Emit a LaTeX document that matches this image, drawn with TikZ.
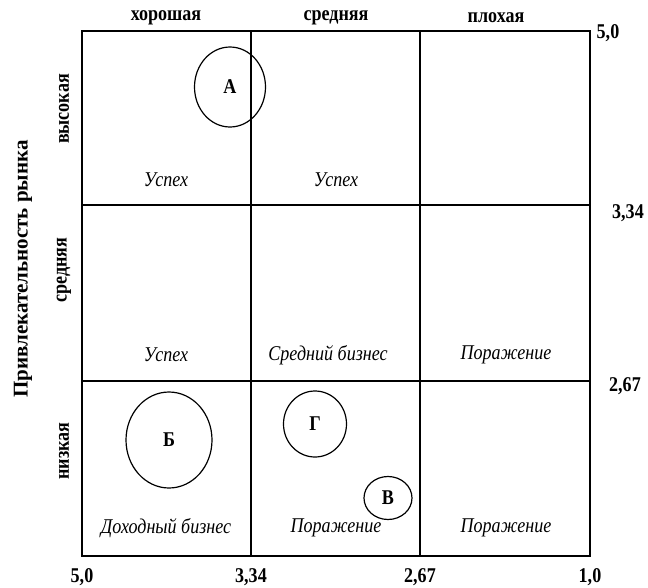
\documentclass[tikz,border=0pt]{standalone}
\usepackage{fontspec}
\setmainfont{Liberation Serif}[FakeStretch=0.86]
\newfontfamily\wideserif{Liberation Serif}
\usetikzlibrary{shapes.geometric}
\begin{document}
\begin{tikzpicture}[x=1pt,y=-1pt,line width=1.2pt,
  head/.style={font=\fontsize{21}{24}\selectfont\bfseries},
  cell/.style={font=\fontsize{21}{24}\selectfont\itshape},
  firm/.style={draw,ellipse,inner sep=0pt,font=\fontsize{21}{24}\selectfont\bfseries}]
\useasboundingbox (0,0) rectangle (648,587);
\draw (82,31) rectangle (590,556);
\foreach \x in {251,420} \draw (\x,31) -- (\x,556);
\foreach \y in {205,381} \draw (82,\y) -- (590,\y);
\node[head] (good) at (166,18) {хорошая};
\node[head] (mid) at (336,18) {средняя};
\node[head] (bad) at (496,18) {плохая};
\node[head] (r50) at (608,33) {5,0};
\node[head] (r334) at (628,213) {3,34};
\node[head] (r267) at (625,386) {2,67};
\node[head] (b50) at (82,577) {5,0};
\node[head] (b334) at (251,577) {3,34};
\node[head] (b267) at (420,577) {2,67};
\node[head] (b10) at (590,577) {1,0};
\node[head,rotate=90] (high) at (64,109) {высокая};
\node[head,rotate=90] (medium) at (64,270) {средняя};
\node[head,rotate=90] (low) at (64,451) {низкая};
\node[head,rotate=90,font=\fontsize{21}{24}\selectfont\wideserif\bfseries] (axis) at (23,269) {Привлекательность рынка};
\node[cell] (s11) at (166,180) {Успех};
\node[cell] (s12) at (336,180) {Успех};
\node[cell] (s21) at (166,355) {Успех};
\node[cell] (s22) at (328,355) {Средний бизнес};
\node[cell] (s23) at (506,355) {Поражение};
\node[cell] (s31) at (166,528) {Доходный бизнес};
\node[cell] (s32) at (336,528) {Поражение};
\node[cell] (s33) at (506,528) {Поражение};
\node[firm,minimum width=71,minimum height=80] (A) at (230,87) {А};
\node[firm,minimum width=86,minimum height=96] (B) at (169,440) {Б};
\node[firm,minimum width=63,minimum height=66] (G) at (315,424) {Г};
\node[firm,minimum width=48,minimum height=43] (V) at (388,498) {В};
\end{tikzpicture}
\end{document}
